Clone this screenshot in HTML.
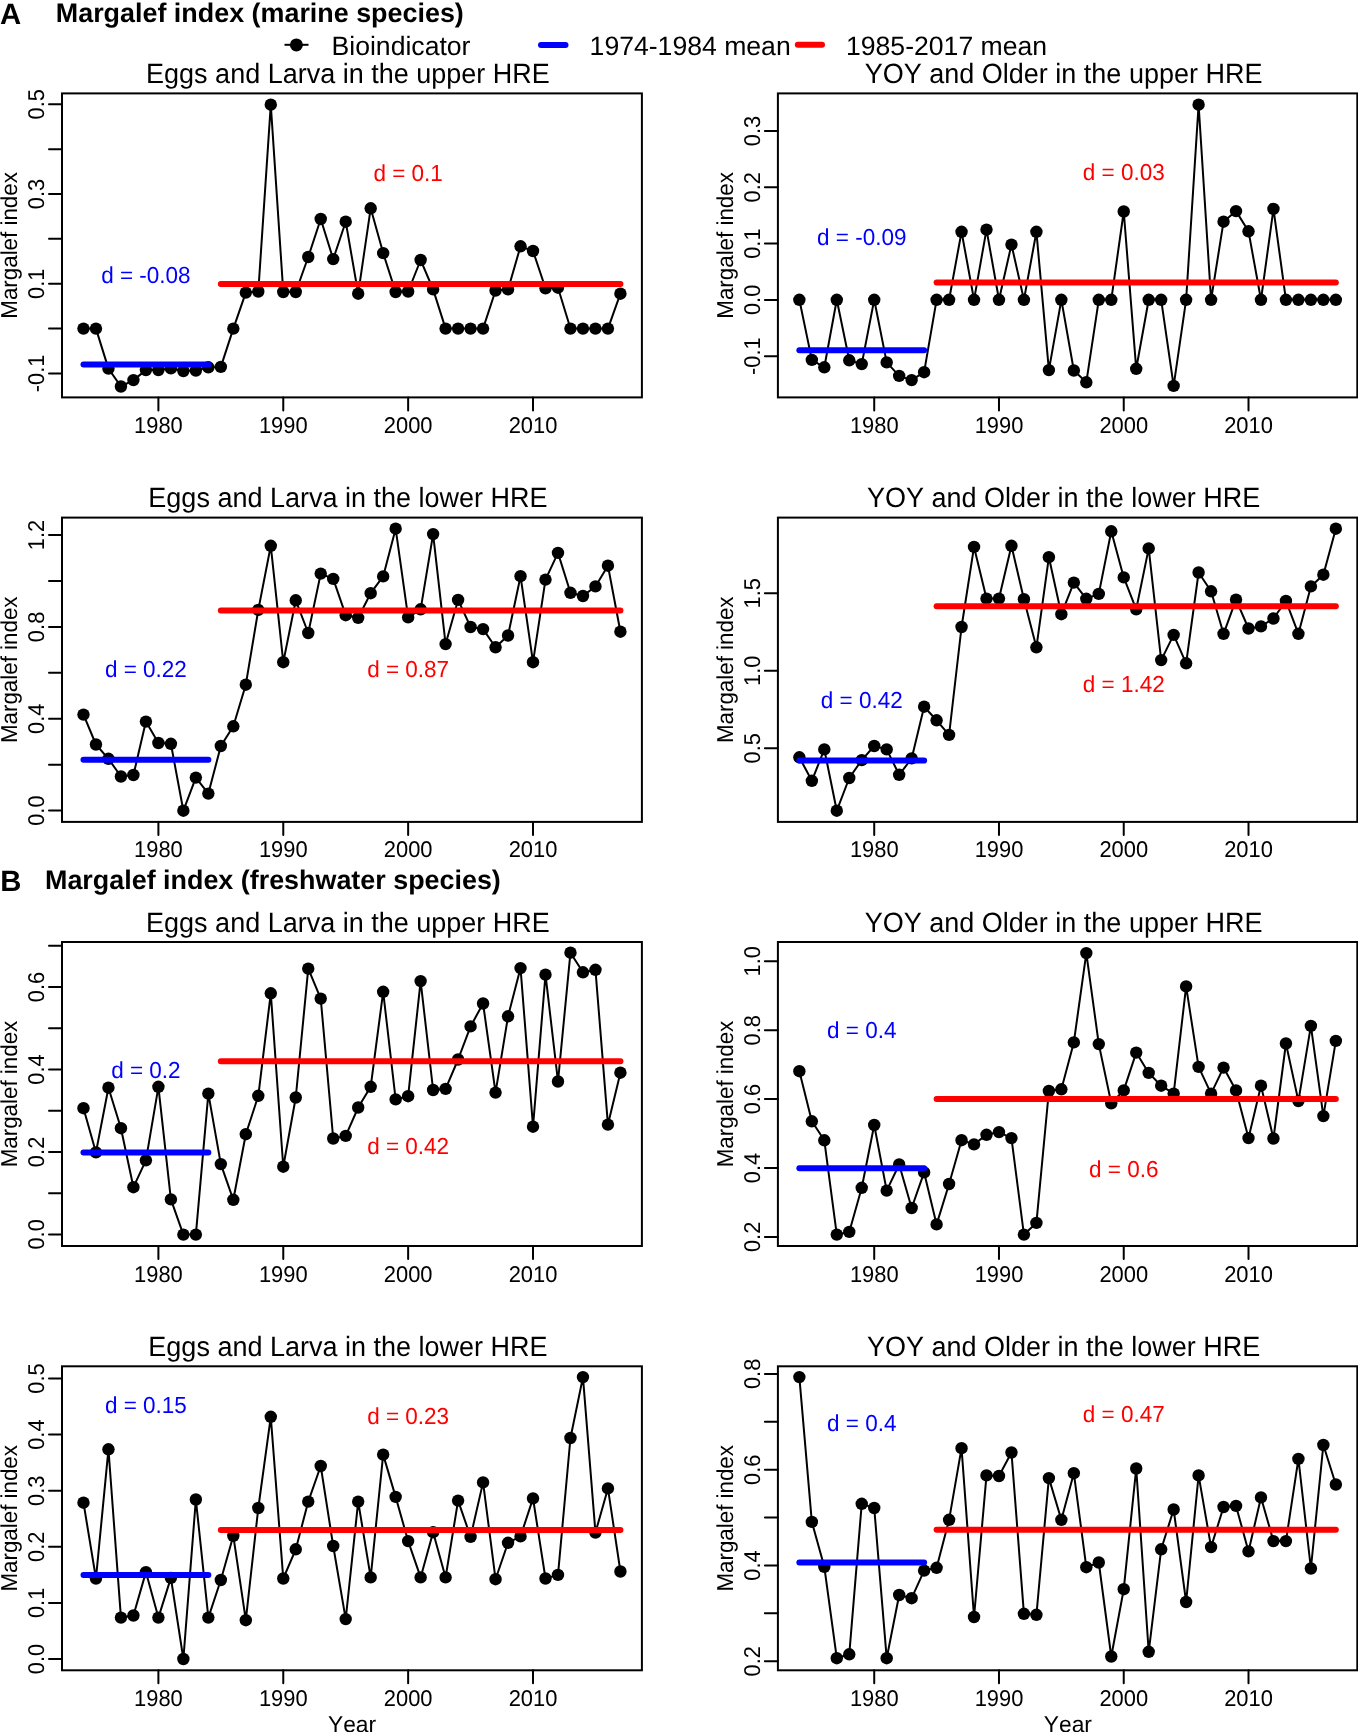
<!DOCTYPE html>
<html><head><meta charset="utf-8"><style>html,body{margin:0;padding:0;background:#fff;width:1358px;height:1732px;overflow:hidden}#w{will-change:transform;width:1358px;height:1732px}text{font-kerning:none;font-feature-settings:"kern" 0}</style></head><body><div id="w">
<svg width="1358" height="1732" viewBox="0 0 1358 1732" style="display:block">
<rect width="1358" height="1732" fill="#fff"/>
<g font-family='"Liberation Sans", sans-serif' text-rendering="geometricPrecision">
<text x="0.00" y="24.00" font-size="29.3" text-anchor="start" fill="#000" font-weight="bold">A</text>
<text x="55.80" y="22.20" font-size="26.9" text-anchor="start" fill="#000" font-weight="bold">Margalef index (marine species)</text>
<text x="331.50" y="54.50" font-size="26.6" text-anchor="start" fill="#000" font-weight="normal">Bioindicator</text>
<text x="589.60" y="54.50" font-size="26.6" text-anchor="start" fill="#000" font-weight="normal">1974-1984 mean</text>
<text x="846.00" y="54.50" font-size="26.6" text-anchor="start" fill="#000" font-weight="normal">1985-2017 mean</text>
<text x="0.30" y="890.60" font-size="29.3" text-anchor="start" fill="#000" font-weight="bold">B</text>
<text x="45.00" y="888.90" font-size="26.9" text-anchor="start" fill="#000" font-weight="bold">Margalef index (freshwater species)</text>
<text x="352.00" y="1731.80" font-size="22.8" text-anchor="middle" fill="#000" font-weight="normal">Year</text>
<text x="1067.90" y="1731.80" font-size="22.8" text-anchor="middle" fill="#000" font-weight="normal">Year</text>
<path d="M284.5,44.8H308.5" stroke="#000" stroke-width="2"/><circle cx="296.4" cy="44.9" r="6.5" fill="#000"/>
<path d="M541,44.9H565.5" stroke="#0000ff" stroke-width="6" stroke-linecap="round"/>
<path d="M797.8,44.8H822" stroke="#ff0000" stroke-width="6" stroke-linecap="round"/>
<rect x="62.00" y="93.40" width="579.90" height="304.00" fill="none" stroke="#000" stroke-width="2"/>
<text transform="translate(347.95,82.90) scale(1,1.03)" font-size="27.0" text-anchor="middle" fill="#000" font-weight="normal">Eggs and Larva in the upper HRE</text>
<text transform="translate(16.70,245.40) rotate(-90) scale(1,1.03)" font-size="22.35" text-anchor="middle" fill="#000" font-weight="normal">Margalef index</text>
<text transform="translate(43.70,373.44) rotate(-90) scale(1,1.045)" font-size="21.9" text-anchor="middle" fill="#000" font-weight="normal">-0.1</text>
<text transform="translate(43.70,283.72) rotate(-90) scale(1,1.045)" font-size="21.9" text-anchor="middle" fill="#000" font-weight="normal">0.1</text>
<text transform="translate(43.70,194.00) rotate(-90) scale(1,1.045)" font-size="21.9" text-anchor="middle" fill="#000" font-weight="normal">0.3</text>
<text transform="translate(43.70,104.28) rotate(-90) scale(1,1.045)" font-size="21.9" text-anchor="middle" fill="#000" font-weight="normal">0.5</text>
<text transform="translate(158.40,432.90) scale(1,1.045)" font-size="21.9" text-anchor="middle" fill="#000" font-weight="normal">1980</text>
<text transform="translate(283.27,432.90) scale(1,1.045)" font-size="21.9" text-anchor="middle" fill="#000" font-weight="normal">1990</text>
<text transform="translate(408.14,432.90) scale(1,1.045)" font-size="21.9" text-anchor="middle" fill="#000" font-weight="normal">2000</text>
<text transform="translate(533.01,432.90) scale(1,1.045)" font-size="21.9" text-anchor="middle" fill="#000" font-weight="normal">2010</text>
<path d="M49.00,373.44H62.00 M49.00,328.58H62.00 M49.00,283.72H62.00 M49.00,238.86H62.00 M49.00,194.00H62.00 M49.00,149.14H62.00 M49.00,104.28H62.00 M158.40,397.40V410.40 M283.27,397.40V410.40 M408.14,397.40V410.40 M533.01,397.40V410.40" stroke="#000" stroke-width="2" stroke-linecap="round" fill="none"/>
<path d="M83.48,328.58 L95.96,328.58 L108.45,368.60 L120.94,386.50 L133.43,380.10 L145.91,370.10 L158.40,370.10 L170.89,368.40 L183.37,371.00 L195.86,370.50 L208.35,367.30 L220.84,366.90 L233.32,328.58 L245.81,292.60 L258.30,291.50 L270.78,104.70 L283.27,292.00 L295.76,292.00 L308.25,257.00 L320.73,219.00 L333.22,259.10 L345.71,221.70 L358.19,293.70 L370.68,208.30 L383.17,253.10 L395.65,292.00 L408.14,291.50 L420.63,260.00 L433.12,289.40 L445.60,328.58 L458.09,328.58 L470.58,328.58 L483.06,328.58 L495.55,290.50 L508.04,289.40 L520.53,246.30 L533.01,251.00 L545.50,288.30 L557.99,287.70 L570.47,328.58 L582.96,328.58 L595.45,328.58 L607.94,328.58 L620.42,293.70" stroke="#000" stroke-width="2" fill="none" stroke-linejoin="round"/>
<g fill="#000"><circle cx="83.48" cy="328.58" r="6.2"/><circle cx="95.96" cy="328.58" r="6.2"/><circle cx="108.45" cy="368.60" r="6.2"/><circle cx="120.94" cy="386.50" r="6.2"/><circle cx="133.43" cy="380.10" r="6.2"/><circle cx="145.91" cy="370.10" r="6.2"/><circle cx="158.40" cy="370.10" r="6.2"/><circle cx="170.89" cy="368.40" r="6.2"/><circle cx="183.37" cy="371.00" r="6.2"/><circle cx="195.86" cy="370.50" r="6.2"/><circle cx="208.35" cy="367.30" r="6.2"/><circle cx="220.84" cy="366.90" r="6.2"/><circle cx="233.32" cy="328.58" r="6.2"/><circle cx="245.81" cy="292.60" r="6.2"/><circle cx="258.30" cy="291.50" r="6.2"/><circle cx="270.78" cy="104.70" r="6.2"/><circle cx="283.27" cy="292.00" r="6.2"/><circle cx="295.76" cy="292.00" r="6.2"/><circle cx="308.25" cy="257.00" r="6.2"/><circle cx="320.73" cy="219.00" r="6.2"/><circle cx="333.22" cy="259.10" r="6.2"/><circle cx="345.71" cy="221.70" r="6.2"/><circle cx="358.19" cy="293.70" r="6.2"/><circle cx="370.68" cy="208.30" r="6.2"/><circle cx="383.17" cy="253.10" r="6.2"/><circle cx="395.65" cy="292.00" r="6.2"/><circle cx="408.14" cy="291.50" r="6.2"/><circle cx="420.63" cy="260.00" r="6.2"/><circle cx="433.12" cy="289.40" r="6.2"/><circle cx="445.60" cy="328.58" r="6.2"/><circle cx="458.09" cy="328.58" r="6.2"/><circle cx="470.58" cy="328.58" r="6.2"/><circle cx="483.06" cy="328.58" r="6.2"/><circle cx="495.55" cy="290.50" r="6.2"/><circle cx="508.04" cy="289.40" r="6.2"/><circle cx="520.53" cy="246.30" r="6.2"/><circle cx="533.01" cy="251.00" r="6.2"/><circle cx="545.50" cy="288.30" r="6.2"/><circle cx="557.99" cy="287.70" r="6.2"/><circle cx="570.47" cy="328.58" r="6.2"/><circle cx="582.96" cy="328.58" r="6.2"/><circle cx="595.45" cy="328.58" r="6.2"/><circle cx="607.94" cy="328.58" r="6.2"/><circle cx="620.42" cy="293.70" r="6.2"/></g>
<path d="M83.48,364.60H208.35" stroke="#0000ff" stroke-width="6" stroke-linecap="round"/>
<path d="M220.84,284.10H620.42" stroke="#ff0000" stroke-width="6" stroke-linecap="round"/>
<text transform="translate(145.91,282.50) scale(1,1.03)" font-size="22.5" text-anchor="middle" fill="#0000ff" font-weight="normal">d = -0.08</text>
<text transform="translate(408.14,181.30) scale(1,1.03)" font-size="22.5" text-anchor="middle" fill="#ff0000" font-weight="normal">d = 0.1</text>
<rect x="777.90" y="93.40" width="579.40" height="304.00" fill="none" stroke="#000" stroke-width="2"/>
<text transform="translate(1063.60,82.90) scale(1,1.03)" font-size="27.0" text-anchor="middle" fill="#000" font-weight="normal">YOY and Older in the upper HRE</text>
<text transform="translate(732.60,245.40) rotate(-90) scale(1,1.03)" font-size="22.35" text-anchor="middle" fill="#000" font-weight="normal">Margalef index</text>
<text transform="translate(759.60,356.20) rotate(-90) scale(1,1.045)" font-size="21.9" text-anchor="middle" fill="#000" font-weight="normal">-0.1</text>
<text transform="translate(759.60,299.90) rotate(-90) scale(1,1.045)" font-size="21.9" text-anchor="middle" fill="#000" font-weight="normal">0.0</text>
<text transform="translate(759.60,243.60) rotate(-90) scale(1,1.045)" font-size="21.9" text-anchor="middle" fill="#000" font-weight="normal">0.1</text>
<text transform="translate(759.60,187.30) rotate(-90) scale(1,1.045)" font-size="21.9" text-anchor="middle" fill="#000" font-weight="normal">0.2</text>
<text transform="translate(759.60,131.00) rotate(-90) scale(1,1.045)" font-size="21.9" text-anchor="middle" fill="#000" font-weight="normal">0.3</text>
<text transform="translate(874.22,432.90) scale(1,1.045)" font-size="21.9" text-anchor="middle" fill="#000" font-weight="normal">1980</text>
<text transform="translate(998.98,432.90) scale(1,1.045)" font-size="21.9" text-anchor="middle" fill="#000" font-weight="normal">1990</text>
<text transform="translate(1123.74,432.90) scale(1,1.045)" font-size="21.9" text-anchor="middle" fill="#000" font-weight="normal">2000</text>
<text transform="translate(1248.51,432.90) scale(1,1.045)" font-size="21.9" text-anchor="middle" fill="#000" font-weight="normal">2010</text>
<path d="M764.90,356.20H777.90 M764.90,299.90H777.90 M764.90,243.60H777.90 M764.90,187.30H777.90 M764.90,131.00H777.90 M874.22,397.40V410.40 M998.98,397.40V410.40 M1123.74,397.40V410.40 M1248.51,397.40V410.40" stroke="#000" stroke-width="2" stroke-linecap="round" fill="none"/>
<path d="M799.36,299.80 L811.84,359.90 L824.31,367.30 L836.79,299.80 L849.26,360.30 L861.74,364.10 L874.22,299.80 L886.69,362.40 L899.17,375.90 L911.65,380.10 L924.12,372.20 L936.60,299.80 L949.08,299.80 L961.55,231.80 L974.03,299.80 L986.50,229.60 L998.98,299.80 L1011.46,244.60 L1023.93,299.80 L1036.41,231.80 L1048.89,370.10 L1061.36,299.80 L1073.84,370.50 L1086.31,382.30 L1098.79,299.80 L1111.27,299.80 L1123.74,211.50 L1136.22,368.80 L1148.70,299.80 L1161.17,299.80 L1173.65,385.90 L1186.12,299.80 L1198.60,104.70 L1211.08,299.80 L1223.55,221.70 L1236.03,211.10 L1248.51,231.30 L1260.98,299.80 L1273.46,208.90 L1285.94,299.80 L1298.41,299.80 L1310.89,299.80 L1323.36,299.80 L1335.84,299.80" stroke="#000" stroke-width="2" fill="none" stroke-linejoin="round"/>
<g fill="#000"><circle cx="799.36" cy="299.80" r="6.2"/><circle cx="811.84" cy="359.90" r="6.2"/><circle cx="824.31" cy="367.30" r="6.2"/><circle cx="836.79" cy="299.80" r="6.2"/><circle cx="849.26" cy="360.30" r="6.2"/><circle cx="861.74" cy="364.10" r="6.2"/><circle cx="874.22" cy="299.80" r="6.2"/><circle cx="886.69" cy="362.40" r="6.2"/><circle cx="899.17" cy="375.90" r="6.2"/><circle cx="911.65" cy="380.10" r="6.2"/><circle cx="924.12" cy="372.20" r="6.2"/><circle cx="936.60" cy="299.80" r="6.2"/><circle cx="949.08" cy="299.80" r="6.2"/><circle cx="961.55" cy="231.80" r="6.2"/><circle cx="974.03" cy="299.80" r="6.2"/><circle cx="986.50" cy="229.60" r="6.2"/><circle cx="998.98" cy="299.80" r="6.2"/><circle cx="1011.46" cy="244.60" r="6.2"/><circle cx="1023.93" cy="299.80" r="6.2"/><circle cx="1036.41" cy="231.80" r="6.2"/><circle cx="1048.89" cy="370.10" r="6.2"/><circle cx="1061.36" cy="299.80" r="6.2"/><circle cx="1073.84" cy="370.50" r="6.2"/><circle cx="1086.31" cy="382.30" r="6.2"/><circle cx="1098.79" cy="299.80" r="6.2"/><circle cx="1111.27" cy="299.80" r="6.2"/><circle cx="1123.74" cy="211.50" r="6.2"/><circle cx="1136.22" cy="368.80" r="6.2"/><circle cx="1148.70" cy="299.80" r="6.2"/><circle cx="1161.17" cy="299.80" r="6.2"/><circle cx="1173.65" cy="385.90" r="6.2"/><circle cx="1186.12" cy="299.80" r="6.2"/><circle cx="1198.60" cy="104.70" r="6.2"/><circle cx="1211.08" cy="299.80" r="6.2"/><circle cx="1223.55" cy="221.70" r="6.2"/><circle cx="1236.03" cy="211.10" r="6.2"/><circle cx="1248.51" cy="231.30" r="6.2"/><circle cx="1260.98" cy="299.80" r="6.2"/><circle cx="1273.46" cy="208.90" r="6.2"/><circle cx="1285.94" cy="299.80" r="6.2"/><circle cx="1298.41" cy="299.80" r="6.2"/><circle cx="1310.89" cy="299.80" r="6.2"/><circle cx="1323.36" cy="299.80" r="6.2"/><circle cx="1335.84" cy="299.80" r="6.2"/></g>
<path d="M799.36,350.30H924.12" stroke="#0000ff" stroke-width="6" stroke-linecap="round"/>
<path d="M936.60,282.60H1335.84" stroke="#ff0000" stroke-width="6" stroke-linecap="round"/>
<text transform="translate(861.74,245.20) scale(1,1.03)" font-size="22.5" text-anchor="middle" fill="#0000ff" font-weight="normal">d = -0.09</text>
<text transform="translate(1123.74,180.10) scale(1,1.03)" font-size="22.5" text-anchor="middle" fill="#ff0000" font-weight="normal">d = 0.03</text>
<rect x="62.00" y="517.60" width="579.90" height="304.30" fill="none" stroke="#000" stroke-width="2"/>
<text transform="translate(347.95,507.10) scale(1,1.03)" font-size="27.0" text-anchor="middle" fill="#000" font-weight="normal">Eggs and Larva in the lower HRE</text>
<text transform="translate(16.70,669.75) rotate(-90) scale(1,1.03)" font-size="22.35" text-anchor="middle" fill="#000" font-weight="normal">Margalef index</text>
<text transform="translate(43.70,810.60) rotate(-90) scale(1,1.045)" font-size="21.9" text-anchor="middle" fill="#000" font-weight="normal">0.0</text>
<text transform="translate(43.70,718.76) rotate(-90) scale(1,1.045)" font-size="21.9" text-anchor="middle" fill="#000" font-weight="normal">0.4</text>
<text transform="translate(43.70,626.91) rotate(-90) scale(1,1.045)" font-size="21.9" text-anchor="middle" fill="#000" font-weight="normal">0.8</text>
<text transform="translate(43.70,535.07) rotate(-90) scale(1,1.045)" font-size="21.9" text-anchor="middle" fill="#000" font-weight="normal">1.2</text>
<text transform="translate(158.40,857.40) scale(1,1.045)" font-size="21.9" text-anchor="middle" fill="#000" font-weight="normal">1980</text>
<text transform="translate(283.27,857.40) scale(1,1.045)" font-size="21.9" text-anchor="middle" fill="#000" font-weight="normal">1990</text>
<text transform="translate(408.14,857.40) scale(1,1.045)" font-size="21.9" text-anchor="middle" fill="#000" font-weight="normal">2000</text>
<text transform="translate(533.01,857.40) scale(1,1.045)" font-size="21.9" text-anchor="middle" fill="#000" font-weight="normal">2010</text>
<path d="M49.00,810.60H62.00 M49.00,764.68H62.00 M49.00,718.76H62.00 M49.00,672.84H62.00 M49.00,626.91H62.00 M49.00,580.99H62.00 M49.00,535.07H62.00 M158.40,821.90V834.90 M283.27,821.90V834.90 M408.14,821.90V834.90 M533.01,821.90V834.90" stroke="#000" stroke-width="2" stroke-linecap="round" fill="none"/>
<path d="M83.48,714.60 L95.96,744.50 L108.45,758.80 L120.94,776.50 L133.43,775.00 L145.91,721.60 L158.40,743.00 L170.89,743.80 L183.37,810.70 L195.86,777.60 L208.35,793.60 L220.84,746.00 L233.32,726.30 L245.81,684.70 L258.30,609.90 L270.78,545.80 L283.27,662.20 L295.76,600.30 L308.25,633.00 L320.73,573.60 L333.22,578.90 L345.71,615.20 L358.19,617.80 L370.68,593.20 L383.17,576.40 L395.65,528.70 L408.14,617.40 L420.63,609.30 L433.12,534.10 L445.60,644.10 L458.09,599.90 L470.58,627.00 L483.06,629.10 L495.55,647.30 L508.04,635.50 L520.53,576.20 L533.01,662.20 L545.50,579.60 L557.99,552.90 L570.47,592.80 L582.96,596.00 L595.45,586.40 L607.94,565.70 L620.42,631.70" stroke="#000" stroke-width="2" fill="none" stroke-linejoin="round"/>
<g fill="#000"><circle cx="83.48" cy="714.60" r="6.2"/><circle cx="95.96" cy="744.50" r="6.2"/><circle cx="108.45" cy="758.80" r="6.2"/><circle cx="120.94" cy="776.50" r="6.2"/><circle cx="133.43" cy="775.00" r="6.2"/><circle cx="145.91" cy="721.60" r="6.2"/><circle cx="158.40" cy="743.00" r="6.2"/><circle cx="170.89" cy="743.80" r="6.2"/><circle cx="183.37" cy="810.70" r="6.2"/><circle cx="195.86" cy="777.60" r="6.2"/><circle cx="208.35" cy="793.60" r="6.2"/><circle cx="220.84" cy="746.00" r="6.2"/><circle cx="233.32" cy="726.30" r="6.2"/><circle cx="245.81" cy="684.70" r="6.2"/><circle cx="258.30" cy="609.90" r="6.2"/><circle cx="270.78" cy="545.80" r="6.2"/><circle cx="283.27" cy="662.20" r="6.2"/><circle cx="295.76" cy="600.30" r="6.2"/><circle cx="308.25" cy="633.00" r="6.2"/><circle cx="320.73" cy="573.60" r="6.2"/><circle cx="333.22" cy="578.90" r="6.2"/><circle cx="345.71" cy="615.20" r="6.2"/><circle cx="358.19" cy="617.80" r="6.2"/><circle cx="370.68" cy="593.20" r="6.2"/><circle cx="383.17" cy="576.40" r="6.2"/><circle cx="395.65" cy="528.70" r="6.2"/><circle cx="408.14" cy="617.40" r="6.2"/><circle cx="420.63" cy="609.30" r="6.2"/><circle cx="433.12" cy="534.10" r="6.2"/><circle cx="445.60" cy="644.10" r="6.2"/><circle cx="458.09" cy="599.90" r="6.2"/><circle cx="470.58" cy="627.00" r="6.2"/><circle cx="483.06" cy="629.10" r="6.2"/><circle cx="495.55" cy="647.30" r="6.2"/><circle cx="508.04" cy="635.50" r="6.2"/><circle cx="520.53" cy="576.20" r="6.2"/><circle cx="533.01" cy="662.20" r="6.2"/><circle cx="545.50" cy="579.60" r="6.2"/><circle cx="557.99" cy="552.90" r="6.2"/><circle cx="570.47" cy="592.80" r="6.2"/><circle cx="582.96" cy="596.00" r="6.2"/><circle cx="595.45" cy="586.40" r="6.2"/><circle cx="607.94" cy="565.70" r="6.2"/><circle cx="620.42" cy="631.70" r="6.2"/></g>
<path d="M83.48,759.80H208.35" stroke="#0000ff" stroke-width="6" stroke-linecap="round"/>
<path d="M220.84,610.50H620.42" stroke="#ff0000" stroke-width="6" stroke-linecap="round"/>
<text transform="translate(145.91,676.70) scale(1,1.03)" font-size="22.5" text-anchor="middle" fill="#0000ff" font-weight="normal">d = 0.22</text>
<text transform="translate(408.14,677.40) scale(1,1.03)" font-size="22.5" text-anchor="middle" fill="#ff0000" font-weight="normal">d = 0.87</text>
<rect x="777.90" y="517.60" width="579.40" height="304.30" fill="none" stroke="#000" stroke-width="2"/>
<text transform="translate(1063.60,507.10) scale(1,1.03)" font-size="27.0" text-anchor="middle" fill="#000" font-weight="normal">YOY and Older in the lower HRE</text>
<text transform="translate(732.60,669.75) rotate(-90) scale(1,1.03)" font-size="22.35" text-anchor="middle" fill="#000" font-weight="normal">Margalef index</text>
<text transform="translate(759.60,748.20) rotate(-90) scale(1,1.045)" font-size="21.9" text-anchor="middle" fill="#000" font-weight="normal">0.5</text>
<text transform="translate(759.60,670.75) rotate(-90) scale(1,1.045)" font-size="21.9" text-anchor="middle" fill="#000" font-weight="normal">1.0</text>
<text transform="translate(759.60,593.30) rotate(-90) scale(1,1.045)" font-size="21.9" text-anchor="middle" fill="#000" font-weight="normal">1.5</text>
<text transform="translate(874.22,857.40) scale(1,1.045)" font-size="21.9" text-anchor="middle" fill="#000" font-weight="normal">1980</text>
<text transform="translate(998.98,857.40) scale(1,1.045)" font-size="21.9" text-anchor="middle" fill="#000" font-weight="normal">1990</text>
<text transform="translate(1123.74,857.40) scale(1,1.045)" font-size="21.9" text-anchor="middle" fill="#000" font-weight="normal">2000</text>
<text transform="translate(1248.51,857.40) scale(1,1.045)" font-size="21.9" text-anchor="middle" fill="#000" font-weight="normal">2010</text>
<path d="M764.90,748.20H777.90 M764.90,670.75H777.90 M764.90,593.30H777.90 M874.22,821.90V834.90 M998.98,821.90V834.90 M1123.74,821.90V834.90 M1248.51,821.90V834.90" stroke="#000" stroke-width="2" stroke-linecap="round" fill="none"/>
<path d="M799.36,757.30 L811.84,780.80 L824.31,749.40 L836.79,810.70 L849.26,778.00 L861.74,760.10 L874.22,746.00 L886.69,749.40 L899.17,774.80 L911.65,758.40 L924.12,706.70 L936.60,720.30 L949.08,734.90 L961.55,627.00 L974.03,546.90 L986.50,598.60 L998.98,598.60 L1011.46,545.80 L1023.93,599.20 L1036.41,647.30 L1048.89,557.20 L1061.36,614.20 L1073.84,582.60 L1086.31,598.80 L1098.79,593.90 L1111.27,531.30 L1123.74,577.40 L1136.22,609.30 L1148.70,548.40 L1161.17,660.10 L1173.65,634.90 L1186.12,663.30 L1198.60,572.50 L1211.08,591.30 L1223.55,633.80 L1236.03,599.70 L1248.51,628.50 L1260.98,626.40 L1273.46,618.50 L1285.94,600.90 L1298.41,633.80 L1310.89,586.40 L1323.36,574.70 L1335.84,528.70" stroke="#000" stroke-width="2" fill="none" stroke-linejoin="round"/>
<g fill="#000"><circle cx="799.36" cy="757.30" r="6.2"/><circle cx="811.84" cy="780.80" r="6.2"/><circle cx="824.31" cy="749.40" r="6.2"/><circle cx="836.79" cy="810.70" r="6.2"/><circle cx="849.26" cy="778.00" r="6.2"/><circle cx="861.74" cy="760.10" r="6.2"/><circle cx="874.22" cy="746.00" r="6.2"/><circle cx="886.69" cy="749.40" r="6.2"/><circle cx="899.17" cy="774.80" r="6.2"/><circle cx="911.65" cy="758.40" r="6.2"/><circle cx="924.12" cy="706.70" r="6.2"/><circle cx="936.60" cy="720.30" r="6.2"/><circle cx="949.08" cy="734.90" r="6.2"/><circle cx="961.55" cy="627.00" r="6.2"/><circle cx="974.03" cy="546.90" r="6.2"/><circle cx="986.50" cy="598.60" r="6.2"/><circle cx="998.98" cy="598.60" r="6.2"/><circle cx="1011.46" cy="545.80" r="6.2"/><circle cx="1023.93" cy="599.20" r="6.2"/><circle cx="1036.41" cy="647.30" r="6.2"/><circle cx="1048.89" cy="557.20" r="6.2"/><circle cx="1061.36" cy="614.20" r="6.2"/><circle cx="1073.84" cy="582.60" r="6.2"/><circle cx="1086.31" cy="598.80" r="6.2"/><circle cx="1098.79" cy="593.90" r="6.2"/><circle cx="1111.27" cy="531.30" r="6.2"/><circle cx="1123.74" cy="577.40" r="6.2"/><circle cx="1136.22" cy="609.30" r="6.2"/><circle cx="1148.70" cy="548.40" r="6.2"/><circle cx="1161.17" cy="660.10" r="6.2"/><circle cx="1173.65" cy="634.90" r="6.2"/><circle cx="1186.12" cy="663.30" r="6.2"/><circle cx="1198.60" cy="572.50" r="6.2"/><circle cx="1211.08" cy="591.30" r="6.2"/><circle cx="1223.55" cy="633.80" r="6.2"/><circle cx="1236.03" cy="599.70" r="6.2"/><circle cx="1248.51" cy="628.50" r="6.2"/><circle cx="1260.98" cy="626.40" r="6.2"/><circle cx="1273.46" cy="618.50" r="6.2"/><circle cx="1285.94" cy="600.90" r="6.2"/><circle cx="1298.41" cy="633.80" r="6.2"/><circle cx="1310.89" cy="586.40" r="6.2"/><circle cx="1323.36" cy="574.70" r="6.2"/><circle cx="1335.84" cy="528.70" r="6.2"/></g>
<path d="M799.36,760.50H924.12" stroke="#0000ff" stroke-width="6" stroke-linecap="round"/>
<path d="M936.60,606.30H1335.84" stroke="#ff0000" stroke-width="6" stroke-linecap="round"/>
<text transform="translate(861.74,707.70) scale(1,1.03)" font-size="22.5" text-anchor="middle" fill="#0000ff" font-weight="normal">d = 0.42</text>
<text transform="translate(1123.74,691.70) scale(1,1.03)" font-size="22.5" text-anchor="middle" fill="#ff0000" font-weight="normal">d = 1.42</text>
<rect x="62.00" y="942.00" width="579.90" height="304.00" fill="none" stroke="#000" stroke-width="2"/>
<text transform="translate(347.95,931.50) scale(1,1.03)" font-size="27.0" text-anchor="middle" fill="#000" font-weight="normal">Eggs and Larva in the upper HRE</text>
<text transform="translate(16.70,1094.00) rotate(-90) scale(1,1.03)" font-size="22.35" text-anchor="middle" fill="#000" font-weight="normal">Margalef index</text>
<text transform="translate(43.70,1234.40) rotate(-90) scale(1,1.045)" font-size="21.9" text-anchor="middle" fill="#000" font-weight="normal">0.0</text>
<text transform="translate(43.70,1151.91) rotate(-90) scale(1,1.045)" font-size="21.9" text-anchor="middle" fill="#000" font-weight="normal">0.2</text>
<text transform="translate(43.70,1069.43) rotate(-90) scale(1,1.045)" font-size="21.9" text-anchor="middle" fill="#000" font-weight="normal">0.4</text>
<text transform="translate(43.70,986.94) rotate(-90) scale(1,1.045)" font-size="21.9" text-anchor="middle" fill="#000" font-weight="normal">0.6</text>
<text transform="translate(158.40,1281.50) scale(1,1.045)" font-size="21.9" text-anchor="middle" fill="#000" font-weight="normal">1980</text>
<text transform="translate(283.27,1281.50) scale(1,1.045)" font-size="21.9" text-anchor="middle" fill="#000" font-weight="normal">1990</text>
<text transform="translate(408.14,1281.50) scale(1,1.045)" font-size="21.9" text-anchor="middle" fill="#000" font-weight="normal">2000</text>
<text transform="translate(533.01,1281.50) scale(1,1.045)" font-size="21.9" text-anchor="middle" fill="#000" font-weight="normal">2010</text>
<path d="M49.00,1234.40H62.00 M49.00,1193.16H62.00 M49.00,1151.91H62.00 M49.00,1110.67H62.00 M49.00,1069.43H62.00 M49.00,1028.19H62.00 M49.00,986.94H62.00 M49.00,945.70H62.00 M158.40,1246.00V1259.00 M283.27,1246.00V1259.00 M408.14,1246.00V1259.00 M533.01,1246.00V1259.00" stroke="#000" stroke-width="2" stroke-linecap="round" fill="none"/>
<path d="M83.48,1108.20 L95.96,1152.40 L108.45,1087.70 L120.94,1128.20 L133.43,1187.20 L145.91,1160.30 L158.40,1086.80 L170.89,1199.40 L183.37,1234.60 L195.86,1234.60 L208.35,1093.60 L220.84,1164.10 L233.32,1199.80 L245.81,1134.20 L258.30,1095.80 L270.78,993.30 L283.27,1166.70 L295.76,1097.50 L308.25,968.70 L320.73,998.60 L333.22,1138.50 L345.71,1135.90 L358.19,1107.50 L370.68,1086.80 L383.17,991.80 L395.65,1099.40 L408.14,1096.20 L420.63,981.10 L433.12,1090.00 L445.60,1088.90 L458.09,1059.50 L470.58,1026.40 L483.06,1003.50 L495.55,1092.60 L508.04,1016.30 L520.53,968.10 L533.01,1126.70 L545.50,974.70 L557.99,1081.50 L570.47,952.70 L582.96,972.30 L595.45,969.80 L607.94,1124.60 L620.42,1072.70" stroke="#000" stroke-width="2" fill="none" stroke-linejoin="round"/>
<g fill="#000"><circle cx="83.48" cy="1108.20" r="6.2"/><circle cx="95.96" cy="1152.40" r="6.2"/><circle cx="108.45" cy="1087.70" r="6.2"/><circle cx="120.94" cy="1128.20" r="6.2"/><circle cx="133.43" cy="1187.20" r="6.2"/><circle cx="145.91" cy="1160.30" r="6.2"/><circle cx="158.40" cy="1086.80" r="6.2"/><circle cx="170.89" cy="1199.40" r="6.2"/><circle cx="183.37" cy="1234.60" r="6.2"/><circle cx="195.86" cy="1234.60" r="6.2"/><circle cx="208.35" cy="1093.60" r="6.2"/><circle cx="220.84" cy="1164.10" r="6.2"/><circle cx="233.32" cy="1199.80" r="6.2"/><circle cx="245.81" cy="1134.20" r="6.2"/><circle cx="258.30" cy="1095.80" r="6.2"/><circle cx="270.78" cy="993.30" r="6.2"/><circle cx="283.27" cy="1166.70" r="6.2"/><circle cx="295.76" cy="1097.50" r="6.2"/><circle cx="308.25" cy="968.70" r="6.2"/><circle cx="320.73" cy="998.60" r="6.2"/><circle cx="333.22" cy="1138.50" r="6.2"/><circle cx="345.71" cy="1135.90" r="6.2"/><circle cx="358.19" cy="1107.50" r="6.2"/><circle cx="370.68" cy="1086.80" r="6.2"/><circle cx="383.17" cy="991.80" r="6.2"/><circle cx="395.65" cy="1099.40" r="6.2"/><circle cx="408.14" cy="1096.20" r="6.2"/><circle cx="420.63" cy="981.10" r="6.2"/><circle cx="433.12" cy="1090.00" r="6.2"/><circle cx="445.60" cy="1088.90" r="6.2"/><circle cx="458.09" cy="1059.50" r="6.2"/><circle cx="470.58" cy="1026.40" r="6.2"/><circle cx="483.06" cy="1003.50" r="6.2"/><circle cx="495.55" cy="1092.60" r="6.2"/><circle cx="508.04" cy="1016.30" r="6.2"/><circle cx="520.53" cy="968.10" r="6.2"/><circle cx="533.01" cy="1126.70" r="6.2"/><circle cx="545.50" cy="974.70" r="6.2"/><circle cx="557.99" cy="1081.50" r="6.2"/><circle cx="570.47" cy="952.70" r="6.2"/><circle cx="582.96" cy="972.30" r="6.2"/><circle cx="595.45" cy="969.80" r="6.2"/><circle cx="607.94" cy="1124.60" r="6.2"/><circle cx="620.42" cy="1072.70" r="6.2"/></g>
<path d="M83.48,1152.40H208.35" stroke="#0000ff" stroke-width="6" stroke-linecap="round"/>
<path d="M220.84,1061.20H620.42" stroke="#ff0000" stroke-width="6" stroke-linecap="round"/>
<text transform="translate(145.91,1077.60) scale(1,1.03)" font-size="22.5" text-anchor="middle" fill="#0000ff" font-weight="normal">d = 0.2</text>
<text transform="translate(408.14,1154.10) scale(1,1.03)" font-size="22.5" text-anchor="middle" fill="#ff0000" font-weight="normal">d = 0.42</text>
<rect x="777.90" y="942.00" width="579.40" height="304.00" fill="none" stroke="#000" stroke-width="2"/>
<text transform="translate(1063.60,931.50) scale(1,1.03)" font-size="27.0" text-anchor="middle" fill="#000" font-weight="normal">YOY and Older in the upper HRE</text>
<text transform="translate(732.60,1094.00) rotate(-90) scale(1,1.03)" font-size="22.35" text-anchor="middle" fill="#000" font-weight="normal">Margalef index</text>
<text transform="translate(759.60,1236.90) rotate(-90) scale(1,1.045)" font-size="21.9" text-anchor="middle" fill="#000" font-weight="normal">0.2</text>
<text transform="translate(759.60,1168.00) rotate(-90) scale(1,1.045)" font-size="21.9" text-anchor="middle" fill="#000" font-weight="normal">0.4</text>
<text transform="translate(759.60,1099.10) rotate(-90) scale(1,1.045)" font-size="21.9" text-anchor="middle" fill="#000" font-weight="normal">0.6</text>
<text transform="translate(759.60,1030.20) rotate(-90) scale(1,1.045)" font-size="21.9" text-anchor="middle" fill="#000" font-weight="normal">0.8</text>
<text transform="translate(759.60,961.30) rotate(-90) scale(1,1.045)" font-size="21.9" text-anchor="middle" fill="#000" font-weight="normal">1.0</text>
<text transform="translate(874.22,1281.50) scale(1,1.045)" font-size="21.9" text-anchor="middle" fill="#000" font-weight="normal">1980</text>
<text transform="translate(998.98,1281.50) scale(1,1.045)" font-size="21.9" text-anchor="middle" fill="#000" font-weight="normal">1990</text>
<text transform="translate(1123.74,1281.50) scale(1,1.045)" font-size="21.9" text-anchor="middle" fill="#000" font-weight="normal">2000</text>
<text transform="translate(1248.51,1281.50) scale(1,1.045)" font-size="21.9" text-anchor="middle" fill="#000" font-weight="normal">2010</text>
<path d="M764.90,1236.90H777.90 M764.90,1168.00H777.90 M764.90,1099.10H777.90 M764.90,1030.20H777.90 M764.90,961.30H777.90 M874.22,1246.00V1259.00 M998.98,1246.00V1259.00 M1123.74,1246.00V1259.00 M1248.51,1246.00V1259.00" stroke="#000" stroke-width="2" stroke-linecap="round" fill="none"/>
<path d="M799.36,1071.20 L811.84,1121.30 L824.31,1140.30 L836.79,1234.60 L849.26,1231.90 L861.74,1187.80 L874.22,1125.00 L886.69,1190.60 L899.17,1164.50 L911.65,1208.00 L924.12,1172.40 L936.60,1224.40 L949.08,1184.00 L961.55,1140.20 L974.03,1144.40 L986.50,1134.80 L998.98,1132.10 L1011.46,1138.10 L1023.93,1234.60 L1036.41,1222.90 L1048.89,1091.00 L1061.36,1089.30 L1073.84,1042.40 L1086.31,953.10 L1098.79,1044.10 L1111.27,1103.30 L1123.74,1090.40 L1136.22,1052.60 L1148.70,1072.90 L1161.17,1085.70 L1173.65,1093.60 L1186.12,986.40 L1198.60,1066.90 L1211.08,1093.60 L1223.55,1067.60 L1236.03,1090.40 L1248.51,1138.10 L1260.98,1085.70 L1273.46,1138.50 L1285.94,1043.50 L1298.41,1101.10 L1310.89,1025.90 L1323.36,1116.10 L1335.84,1040.90" stroke="#000" stroke-width="2" fill="none" stroke-linejoin="round"/>
<g fill="#000"><circle cx="799.36" cy="1071.20" r="6.2"/><circle cx="811.84" cy="1121.30" r="6.2"/><circle cx="824.31" cy="1140.30" r="6.2"/><circle cx="836.79" cy="1234.60" r="6.2"/><circle cx="849.26" cy="1231.90" r="6.2"/><circle cx="861.74" cy="1187.80" r="6.2"/><circle cx="874.22" cy="1125.00" r="6.2"/><circle cx="886.69" cy="1190.60" r="6.2"/><circle cx="899.17" cy="1164.50" r="6.2"/><circle cx="911.65" cy="1208.00" r="6.2"/><circle cx="924.12" cy="1172.40" r="6.2"/><circle cx="936.60" cy="1224.40" r="6.2"/><circle cx="949.08" cy="1184.00" r="6.2"/><circle cx="961.55" cy="1140.20" r="6.2"/><circle cx="974.03" cy="1144.40" r="6.2"/><circle cx="986.50" cy="1134.80" r="6.2"/><circle cx="998.98" cy="1132.10" r="6.2"/><circle cx="1011.46" cy="1138.10" r="6.2"/><circle cx="1023.93" cy="1234.60" r="6.2"/><circle cx="1036.41" cy="1222.90" r="6.2"/><circle cx="1048.89" cy="1091.00" r="6.2"/><circle cx="1061.36" cy="1089.30" r="6.2"/><circle cx="1073.84" cy="1042.40" r="6.2"/><circle cx="1086.31" cy="953.10" r="6.2"/><circle cx="1098.79" cy="1044.10" r="6.2"/><circle cx="1111.27" cy="1103.30" r="6.2"/><circle cx="1123.74" cy="1090.40" r="6.2"/><circle cx="1136.22" cy="1052.60" r="6.2"/><circle cx="1148.70" cy="1072.90" r="6.2"/><circle cx="1161.17" cy="1085.70" r="6.2"/><circle cx="1173.65" cy="1093.60" r="6.2"/><circle cx="1186.12" cy="986.40" r="6.2"/><circle cx="1198.60" cy="1066.90" r="6.2"/><circle cx="1211.08" cy="1093.60" r="6.2"/><circle cx="1223.55" cy="1067.60" r="6.2"/><circle cx="1236.03" cy="1090.40" r="6.2"/><circle cx="1248.51" cy="1138.10" r="6.2"/><circle cx="1260.98" cy="1085.70" r="6.2"/><circle cx="1273.46" cy="1138.50" r="6.2"/><circle cx="1285.94" cy="1043.50" r="6.2"/><circle cx="1298.41" cy="1101.10" r="6.2"/><circle cx="1310.89" cy="1025.90" r="6.2"/><circle cx="1323.36" cy="1116.10" r="6.2"/><circle cx="1335.84" cy="1040.90" r="6.2"/></g>
<path d="M799.36,1168.20H924.12" stroke="#0000ff" stroke-width="6" stroke-linecap="round"/>
<path d="M936.60,1098.90H1335.84" stroke="#ff0000" stroke-width="6" stroke-linecap="round"/>
<text transform="translate(861.74,1038.10) scale(1,1.03)" font-size="22.5" text-anchor="middle" fill="#0000ff" font-weight="normal">d = 0.4</text>
<text transform="translate(1123.74,1177.10) scale(1,1.03)" font-size="22.5" text-anchor="middle" fill="#ff0000" font-weight="normal">d = 0.6</text>
<rect x="62.00" y="1366.30" width="579.90" height="304.00" fill="none" stroke="#000" stroke-width="2"/>
<text transform="translate(347.95,1355.80) scale(1,1.03)" font-size="27.0" text-anchor="middle" fill="#000" font-weight="normal">Eggs and Larva in the lower HRE</text>
<text transform="translate(16.70,1518.30) rotate(-90) scale(1,1.03)" font-size="22.35" text-anchor="middle" fill="#000" font-weight="normal">Margalef index</text>
<text transform="translate(43.70,1659.00) rotate(-90) scale(1,1.045)" font-size="21.9" text-anchor="middle" fill="#000" font-weight="normal">0.0</text>
<text transform="translate(43.70,1602.90) rotate(-90) scale(1,1.045)" font-size="21.9" text-anchor="middle" fill="#000" font-weight="normal">0.1</text>
<text transform="translate(43.70,1546.80) rotate(-90) scale(1,1.045)" font-size="21.9" text-anchor="middle" fill="#000" font-weight="normal">0.2</text>
<text transform="translate(43.70,1490.70) rotate(-90) scale(1,1.045)" font-size="21.9" text-anchor="middle" fill="#000" font-weight="normal">0.3</text>
<text transform="translate(43.70,1434.60) rotate(-90) scale(1,1.045)" font-size="21.9" text-anchor="middle" fill="#000" font-weight="normal">0.4</text>
<text transform="translate(43.70,1378.50) rotate(-90) scale(1,1.045)" font-size="21.9" text-anchor="middle" fill="#000" font-weight="normal">0.5</text>
<text transform="translate(158.40,1705.80) scale(1,1.045)" font-size="21.9" text-anchor="middle" fill="#000" font-weight="normal">1980</text>
<text transform="translate(283.27,1705.80) scale(1,1.045)" font-size="21.9" text-anchor="middle" fill="#000" font-weight="normal">1990</text>
<text transform="translate(408.14,1705.80) scale(1,1.045)" font-size="21.9" text-anchor="middle" fill="#000" font-weight="normal">2000</text>
<text transform="translate(533.01,1705.80) scale(1,1.045)" font-size="21.9" text-anchor="middle" fill="#000" font-weight="normal">2010</text>
<path d="M49.00,1659.00H62.00 M49.00,1602.90H62.00 M49.00,1546.80H62.00 M49.00,1490.70H62.00 M49.00,1434.60H62.00 M49.00,1378.50H62.00 M158.40,1670.30V1683.30 M283.27,1670.30V1683.30 M408.14,1670.30V1683.30 M533.01,1670.30V1683.30" stroke="#000" stroke-width="2" stroke-linecap="round" fill="none"/>
<path d="M83.48,1502.70 L95.96,1578.50 L108.45,1449.30 L120.94,1617.60 L133.43,1615.50 L145.91,1572.10 L158.40,1617.60 L170.89,1577.90 L183.37,1659.00 L195.86,1499.50 L208.35,1617.60 L220.84,1580.00 L233.32,1535.80 L245.81,1620.20 L258.30,1508.00 L270.78,1416.80 L283.27,1578.50 L295.76,1549.30 L308.25,1501.60 L320.73,1466.00 L333.22,1546.00 L345.71,1619.10 L358.19,1501.60 L370.68,1577.40 L383.17,1454.60 L395.65,1496.90 L408.14,1541.10 L420.63,1577.40 L433.12,1532.20 L445.60,1577.40 L458.09,1500.60 L470.58,1536.90 L483.06,1482.40 L495.55,1579.20 L508.04,1542.80 L520.53,1536.40 L533.01,1498.40 L545.50,1578.50 L557.99,1574.90 L570.47,1438.00 L582.96,1377.10 L595.45,1532.60 L607.94,1488.40 L620.42,1571.50" stroke="#000" stroke-width="2" fill="none" stroke-linejoin="round"/>
<g fill="#000"><circle cx="83.48" cy="1502.70" r="6.2"/><circle cx="95.96" cy="1578.50" r="6.2"/><circle cx="108.45" cy="1449.30" r="6.2"/><circle cx="120.94" cy="1617.60" r="6.2"/><circle cx="133.43" cy="1615.50" r="6.2"/><circle cx="145.91" cy="1572.10" r="6.2"/><circle cx="158.40" cy="1617.60" r="6.2"/><circle cx="170.89" cy="1577.90" r="6.2"/><circle cx="183.37" cy="1659.00" r="6.2"/><circle cx="195.86" cy="1499.50" r="6.2"/><circle cx="208.35" cy="1617.60" r="6.2"/><circle cx="220.84" cy="1580.00" r="6.2"/><circle cx="233.32" cy="1535.80" r="6.2"/><circle cx="245.81" cy="1620.20" r="6.2"/><circle cx="258.30" cy="1508.00" r="6.2"/><circle cx="270.78" cy="1416.80" r="6.2"/><circle cx="283.27" cy="1578.50" r="6.2"/><circle cx="295.76" cy="1549.30" r="6.2"/><circle cx="308.25" cy="1501.60" r="6.2"/><circle cx="320.73" cy="1466.00" r="6.2"/><circle cx="333.22" cy="1546.00" r="6.2"/><circle cx="345.71" cy="1619.10" r="6.2"/><circle cx="358.19" cy="1501.60" r="6.2"/><circle cx="370.68" cy="1577.40" r="6.2"/><circle cx="383.17" cy="1454.60" r="6.2"/><circle cx="395.65" cy="1496.90" r="6.2"/><circle cx="408.14" cy="1541.10" r="6.2"/><circle cx="420.63" cy="1577.40" r="6.2"/><circle cx="433.12" cy="1532.20" r="6.2"/><circle cx="445.60" cy="1577.40" r="6.2"/><circle cx="458.09" cy="1500.60" r="6.2"/><circle cx="470.58" cy="1536.90" r="6.2"/><circle cx="483.06" cy="1482.40" r="6.2"/><circle cx="495.55" cy="1579.20" r="6.2"/><circle cx="508.04" cy="1542.80" r="6.2"/><circle cx="520.53" cy="1536.40" r="6.2"/><circle cx="533.01" cy="1498.40" r="6.2"/><circle cx="545.50" cy="1578.50" r="6.2"/><circle cx="557.99" cy="1574.90" r="6.2"/><circle cx="570.47" cy="1438.00" r="6.2"/><circle cx="582.96" cy="1377.10" r="6.2"/><circle cx="595.45" cy="1532.60" r="6.2"/><circle cx="607.94" cy="1488.40" r="6.2"/><circle cx="620.42" cy="1571.50" r="6.2"/></g>
<path d="M83.48,1574.90H208.35" stroke="#0000ff" stroke-width="6" stroke-linecap="round"/>
<path d="M220.84,1530.00H620.42" stroke="#ff0000" stroke-width="6" stroke-linecap="round"/>
<text transform="translate(145.91,1413.20) scale(1,1.03)" font-size="22.5" text-anchor="middle" fill="#0000ff" font-weight="normal">d = 0.15</text>
<text transform="translate(408.14,1423.80) scale(1,1.03)" font-size="22.5" text-anchor="middle" fill="#ff0000" font-weight="normal">d = 0.23</text>
<rect x="777.90" y="1366.30" width="579.40" height="304.00" fill="none" stroke="#000" stroke-width="2"/>
<text transform="translate(1063.60,1355.80) scale(1,1.03)" font-size="27.0" text-anchor="middle" fill="#000" font-weight="normal">YOY and Older in the lower HRE</text>
<text transform="translate(732.60,1518.30) rotate(-90) scale(1,1.03)" font-size="22.35" text-anchor="middle" fill="#000" font-weight="normal">Margalef index</text>
<text transform="translate(759.60,1661.20) rotate(-90) scale(1,1.045)" font-size="21.9" text-anchor="middle" fill="#000" font-weight="normal">0.2</text>
<text transform="translate(759.60,1565.43) rotate(-90) scale(1,1.045)" font-size="21.9" text-anchor="middle" fill="#000" font-weight="normal">0.4</text>
<text transform="translate(759.60,1469.67) rotate(-90) scale(1,1.045)" font-size="21.9" text-anchor="middle" fill="#000" font-weight="normal">0.6</text>
<text transform="translate(759.60,1373.90) rotate(-90) scale(1,1.045)" font-size="21.9" text-anchor="middle" fill="#000" font-weight="normal">0.8</text>
<text transform="translate(874.22,1705.80) scale(1,1.045)" font-size="21.9" text-anchor="middle" fill="#000" font-weight="normal">1980</text>
<text transform="translate(998.98,1705.80) scale(1,1.045)" font-size="21.9" text-anchor="middle" fill="#000" font-weight="normal">1990</text>
<text transform="translate(1123.74,1705.80) scale(1,1.045)" font-size="21.9" text-anchor="middle" fill="#000" font-weight="normal">2000</text>
<text transform="translate(1248.51,1705.80) scale(1,1.045)" font-size="21.9" text-anchor="middle" fill="#000" font-weight="normal">2010</text>
<path d="M764.90,1661.20H777.90 M764.90,1613.32H777.90 M764.90,1565.43H777.90 M764.90,1517.55H777.90 M764.90,1469.67H777.90 M764.90,1421.78H777.90 M764.90,1373.90H777.90 M874.22,1670.30V1683.30 M998.98,1670.30V1683.30 M1123.74,1670.30V1683.30 M1248.51,1670.30V1683.30" stroke="#000" stroke-width="2" stroke-linecap="round" fill="none"/>
<path d="M799.36,1377.10 L811.84,1521.90 L824.31,1566.80 L836.79,1658.20 L849.26,1654.30 L861.74,1503.80 L874.22,1508.00 L886.69,1658.20 L899.17,1595.00 L911.65,1598.20 L924.12,1570.60 L936.60,1567.80 L949.08,1519.80 L961.55,1448.20 L974.03,1617.00 L986.50,1475.40 L998.98,1476.00 L1011.46,1452.50 L1023.93,1613.80 L1036.41,1614.80 L1048.89,1478.10 L1061.36,1519.80 L1073.84,1473.20 L1086.31,1567.20 L1098.79,1562.50 L1111.27,1656.50 L1123.74,1589.20 L1136.22,1468.50 L1148.70,1651.80 L1161.17,1549.30 L1173.65,1509.50 L1186.12,1602.00 L1198.60,1475.40 L1211.08,1547.10 L1223.55,1507.00 L1236.03,1505.90 L1248.51,1551.40 L1260.98,1497.40 L1273.46,1541.10 L1285.94,1541.10 L1298.41,1458.90 L1310.89,1568.50 L1323.36,1445.00 L1335.84,1484.50" stroke="#000" stroke-width="2" fill="none" stroke-linejoin="round"/>
<g fill="#000"><circle cx="799.36" cy="1377.10" r="6.2"/><circle cx="811.84" cy="1521.90" r="6.2"/><circle cx="824.31" cy="1566.80" r="6.2"/><circle cx="836.79" cy="1658.20" r="6.2"/><circle cx="849.26" cy="1654.30" r="6.2"/><circle cx="861.74" cy="1503.80" r="6.2"/><circle cx="874.22" cy="1508.00" r="6.2"/><circle cx="886.69" cy="1658.20" r="6.2"/><circle cx="899.17" cy="1595.00" r="6.2"/><circle cx="911.65" cy="1598.20" r="6.2"/><circle cx="924.12" cy="1570.60" r="6.2"/><circle cx="936.60" cy="1567.80" r="6.2"/><circle cx="949.08" cy="1519.80" r="6.2"/><circle cx="961.55" cy="1448.20" r="6.2"/><circle cx="974.03" cy="1617.00" r="6.2"/><circle cx="986.50" cy="1475.40" r="6.2"/><circle cx="998.98" cy="1476.00" r="6.2"/><circle cx="1011.46" cy="1452.50" r="6.2"/><circle cx="1023.93" cy="1613.80" r="6.2"/><circle cx="1036.41" cy="1614.80" r="6.2"/><circle cx="1048.89" cy="1478.10" r="6.2"/><circle cx="1061.36" cy="1519.80" r="6.2"/><circle cx="1073.84" cy="1473.20" r="6.2"/><circle cx="1086.31" cy="1567.20" r="6.2"/><circle cx="1098.79" cy="1562.50" r="6.2"/><circle cx="1111.27" cy="1656.50" r="6.2"/><circle cx="1123.74" cy="1589.20" r="6.2"/><circle cx="1136.22" cy="1468.50" r="6.2"/><circle cx="1148.70" cy="1651.80" r="6.2"/><circle cx="1161.17" cy="1549.30" r="6.2"/><circle cx="1173.65" cy="1509.50" r="6.2"/><circle cx="1186.12" cy="1602.00" r="6.2"/><circle cx="1198.60" cy="1475.40" r="6.2"/><circle cx="1211.08" cy="1547.10" r="6.2"/><circle cx="1223.55" cy="1507.00" r="6.2"/><circle cx="1236.03" cy="1505.90" r="6.2"/><circle cx="1248.51" cy="1551.40" r="6.2"/><circle cx="1260.98" cy="1497.40" r="6.2"/><circle cx="1273.46" cy="1541.10" r="6.2"/><circle cx="1285.94" cy="1541.10" r="6.2"/><circle cx="1298.41" cy="1458.90" r="6.2"/><circle cx="1310.89" cy="1568.50" r="6.2"/><circle cx="1323.36" cy="1445.00" r="6.2"/><circle cx="1335.84" cy="1484.50" r="6.2"/></g>
<path d="M799.36,1562.50H924.12" stroke="#0000ff" stroke-width="6" stroke-linecap="round"/>
<path d="M936.60,1529.80H1335.84" stroke="#ff0000" stroke-width="6" stroke-linecap="round"/>
<text transform="translate(861.74,1431.10) scale(1,1.03)" font-size="22.5" text-anchor="middle" fill="#0000ff" font-weight="normal">d = 0.4</text>
<text transform="translate(1123.74,1421.70) scale(1,1.03)" font-size="22.5" text-anchor="middle" fill="#ff0000" font-weight="normal">d = 0.47</text>
</g></svg>
</div></body></html>
